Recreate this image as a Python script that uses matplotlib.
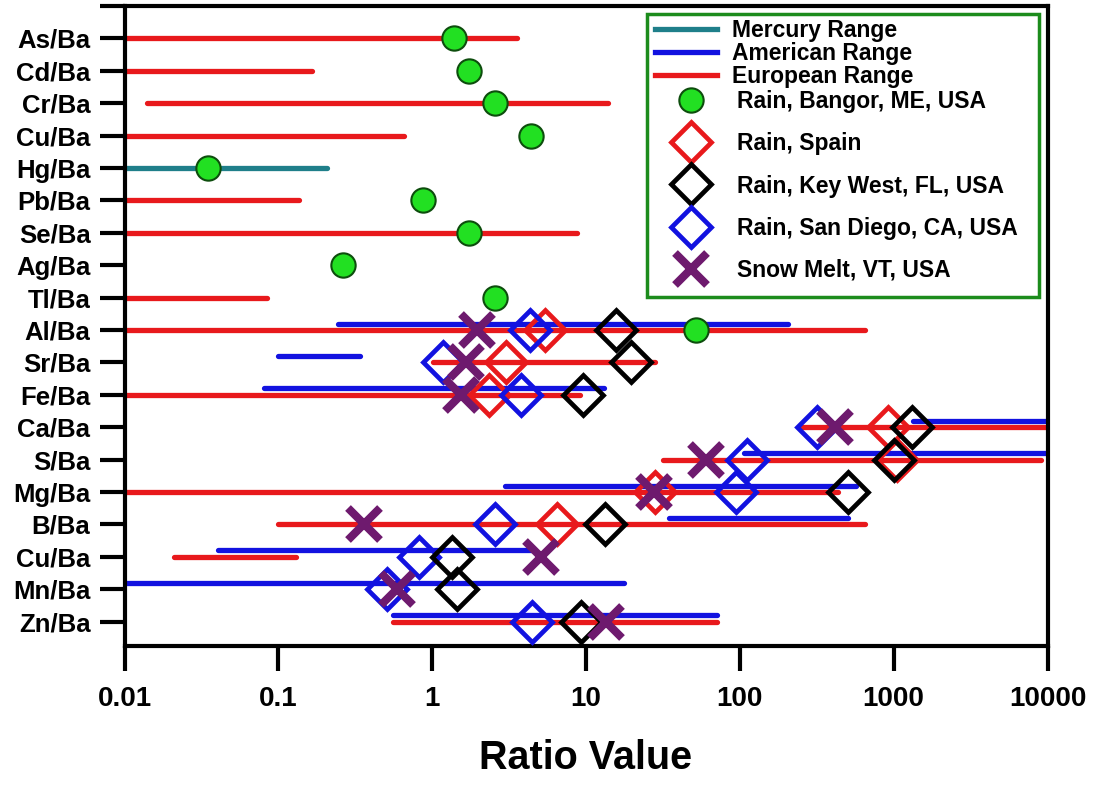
import numpy as np
import matplotlib
matplotlib.use("Agg")
import matplotlib.pyplot as plt
from matplotlib.lines import Line2D
from matplotlib.patches import Rectangle
from matplotlib.ticker import NullLocator

plt.rcParams['font.family'] = ['Liberation Sans', 'DejaVu Sans']
plt.rcParams['font.weight'] = 'bold'

# ratio names, top to bottom
ratios = ['As/Ba', 'Cd/Ba', 'Cr/Ba', 'Cu/Ba', 'Hg/Ba', 'Pb/Ba', 'Se/Ba', 'Ag/Ba', 'Tl/Ba',
          'Al/Ba', 'Sr/Ba', 'Fe/Ba', 'Ca/Ba', 'S/Ba', 'Mg/Ba', 'B/Ba', 'Cu/Ba', 'Mn/Ba', 'Zn/Ba']

# reference ranges (low, high)
merc_lo = [None, None, None, None, 0.01, None, None, None, None,
           None, None, None, None, None, None, None, None, None, None]
merc_hi = [None, None, None, None, 0.206, None, None, None, None,
           None, None, None, None, None, None, None, None, None, None]
amer_lo = [None, None, None, None, None, None, None, None, None,
           0.243, 0.1, 0.081, 1330, 106, 2.98, 34.7, 0.0403, 0.01, 0.558]
amer_hi = [None, None, None, None, None, None, None, None, None,
           207, 0.342, 13.0, 10000, 10000, 567, 508, 4.57, 17.6, 71.3]
euro_lo = [0.01, 0.01, 0.0141, 0.01, None, 0.01, 0.01, None, 0.01,
           0.01, 1.02, 0.01, 255, 31.6, 0.01, 0.099, 0.021, None, 0.56]
euro_hi = [3.56, 0.166, 13.8, 0.66, None, 0.137, 8.7, None, 0.084,
           655, 28, 9.2, 10000, 9100, 433, 655, 0.131, None, 71]

# measured ratios
bangor = [1.38, 1.73, 2.58, 4.37, 0.035, 0.867, 1.73, 0.262, 2.55,
          51.9, None, None, None, None, None, None, None, None, None]
spain = [None, None, None, None, None, None, None, None, None,
         5.4, 3.0, 2.33, 913, 1050, 28, 6.45, None, None, None]
key_west = [None, None, None, None, None, None, None, None, None,
            15.6, 19.5, 9.5, 1310, 1000, 508, 13.2, 1.34, 1.46, 9.3]
san_diego = [None, None, None, None, None, None, None, None, None,
             4.3, 1.17, 3.76, 316, 111, 95, 2.58, 0.816, 0.506, 4.46]
snow_melt = [None, None, None, None, None, None, None, None, None,
             1.97, 1.65, 1.53, 413, 60, 27.5, 0.363, 5.07, 0.589, 13.5]

xticks = [0.01, 0.1, 1, 10, 100, 1000, 10000]
xticklabels = ['0.01', '0.1', '1', '10', '100', '1000', '10000']

RED = '#e8191c'
BLUE = '#1212e0'
TEAL = '#1f7f8a'
GREEN = '#22e022'
PURPLE = '#6e1a6e'


def arr(v):
    return np.array([np.nan if a is None else a for a in v], dtype=float)


y = np.arange(len(ratios))

fig = plt.figure(figsize=(10.95, 7.9), dpi=100)
ax = fig.add_axes([124.5 / 1095, 1 - 646 / 790, 923 / 1095, 640 / 790])

# ranges
lw = 3.8
for lo, hi, c, dy in [(merc_lo, merc_hi, TEAL, 0.0),
                      (euro_lo, euro_hi, RED, 0.0),
                      (amer_lo, amer_hi, BLUE, -0.2)]:
    lc = ax.hlines(y + dy, arr(lo), arr(hi), color=c, lw=lw, zorder=2)
    lc.set_capstyle('round')

# samples
h_bangor, = ax.plot(arr(bangor), y, ls='none', marker='o', ms=17.5, mfc=GREEN,
                    mec='#0d4d0d', mew=1.5, zorder=3)
h_spain, = ax.plot(arr(spain), y, ls='none', marker='D', ms=20, mfc='none',
                   mec=RED, mew=3.4, zorder=4)
h_sd, = ax.plot(arr(san_diego), y, ls='none', marker='D', ms=20, mfc='none',
                mec=BLUE, mew=3.4, zorder=5)
h_kw, = ax.plot(arr(key_west), y, ls='none', marker='D', ms=20, mfc='none',
                mec='black', mew=3.4, zorder=6)
h_snow, = ax.plot(arr(snow_melt), y, ls='none', marker='x', ms=23,
                  mec=PURPLE, mew=5.8, zorder=7)

ax.set_xscale('log')
ax.set_xlim(0.01, 10000)
ax.set_ylim(18.75, -1.0)
ax.set_xticks(xticks)
ax.set_xticklabels(xticklabels)
ax.xaxis.set_minor_locator(NullLocator())
ax.set_yticks(np.arange(-1, len(ratios)))
ax.set_yticklabels([''] + ratios)

ax.tick_params(axis='y', direction='out', length=18, width=3, pad=6.5, labelsize=18.5)
ax.tick_params(axis='x', direction='out', length=18, width=3, pad=11, labelsize=20)
for s in ax.spines.values():
    s.set_linewidth(3)

ax.set_xlabel('Ratio Value', fontsize=28.5, fontweight='bold', labelpad=19)

# legend box
fig.add_artist(Rectangle((647 / 1095, 1 - 297 / 790), 392 / 1095, 283 / 790,
                         transform=fig.transFigure, facecolor='white',
                         edgecolor='#1c8c1c', lw=2.5, zorder=3))

line_handles = [Line2D([], [], color=TEAL, lw=lw),
                Line2D([], [], color=BLUE, lw=lw),
                Line2D([], [], color=RED, lw=lw)]
leg1 = fig.legend(line_handles, ['Mercury Range', 'American Range', 'European Range'],
                  loc='upper left', bbox_to_anchor=(655 / 1095, 1 - 19 / 790),
                  frameon=False, fontsize=16.5, labelspacing=0.0,
                  handlelength=2.7, handletextpad=0.65, borderpad=0, borderaxespad=0)
leg1.set_zorder(5)

leg2 = fig.legend([h_bangor, h_spain, h_kw, h_sd, h_snow],
                  ['Rain, Bangor, ME, USA', 'Rain, Spain', 'Rain, Key West, FL, USA',
                   'Rain, San Diego, CA, USA', 'Snow Melt, VT, USA'],
                  loc='upper left', bbox_to_anchor=(660 / 1095, 1 - 90 / 790),
                  frameon=False, fontsize=16.5, labelspacing=0.84, numpoints=1,
                  handlelength=2.7, handletextpad=0.65, borderpad=0, borderaxespad=0)
leg2.set_zorder(5)

fig.savefig('out.png', dpi=100)
